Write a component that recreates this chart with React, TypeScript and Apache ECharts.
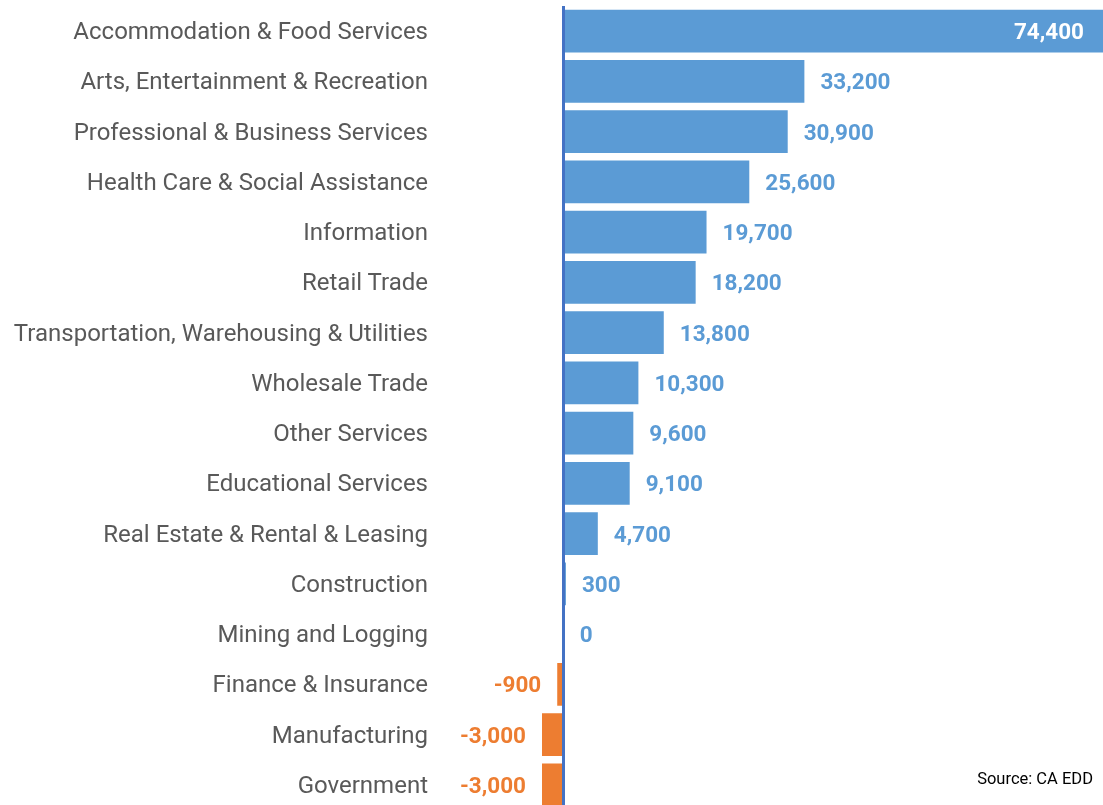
import React, { useEffect, useRef } from "react";
import * as echarts from "echarts";

const categories = [
  "Accommodation & Food Services",
  "Arts, Entertainment & Recreation",
  "Professional & Business Services",
  "Health Care & Social Assistance",
  "Information",
  "Retail Trade",
  "Transportation, Warehousing & Utilities",
  "Wholesale Trade",
  "Other Services",
  "Educational Services",
  "Real Estate & Rental & Leasing",
  "Construction",
  "Mining and Logging",
  "Finance & Insurance",
  "Manufacturing",
  "Government",
];
const values = [74400, 33200, 30900, 25600, 19700, 18200, 13800, 10300, 9600, 9100, 4700, 300, 0, -900, -3000, -3000];
const sourceText = "Source: CA EDD";

const FONT = "'Liberation Sans Narrow', 'Arial Narrow', Roboto, sans-serif";
const BLUE = "#5B9BD5";
const ORANGE = "#ED7D31";

export default function App() {
  const ref = useRef<HTMLDivElement>(null);
  useEffect(() => {
    if (!ref.current) return;
    const chart = echarts.init(ref.current, undefined, { renderer: "svg" });
    const fmt = (v: number) => v.toLocaleString("en-US");
    const maxV = Math.max(...values);
    const data = values.map((v) => {
      const neg = v < 0;
      const isMax = v === maxV;
      return {
        value: v,
        itemStyle: { color: neg ? ORANGE : BLUE },
        label: {
          show: true,
          position: isMax ? "insideRight" : neg ? "left" : "right",
          distance: isMax ? 19 : 16,
          color: isMax ? "#ffffff" : neg ? ORANGE : BLUE,
          fontFamily: FONT,
          fontWeight: "bold",
          fontSize: 22.5,
          formatter: () => fmt(v),
        },
      };
    });
    chart.setOption({
      animation: false,
      grid: { left: 542, right: 0, top: 6, bottom: 0, containLabel: false, outerBoundsMode: "none" },
      xAxis: {
        type: "value",
        min: -3000,
        max: 74400,
        show: false,
        splitLine: { show: false },
      },
      yAxis: {
        type: "category",
        data: categories,
        inverse: true,
        axisLine: { show: false },
        axisTick: { show: false },
        axisLabel: {
          margin: 114,
          color: "#595959",
          fontFamily: FONT,
          fontSize: 24,
        },
      },
      series: [
        {
          type: "bar",
          data,
          barCategoryGap: "15%",
          markLine: {
            silent: true,
            symbol: "none",
            label: { show: false },
            lineStyle: { color: "#4472C4", width: 3, type: "solid" },
            data: [{ xAxis: 0 }],
          },
        },
      ],
      graphic: [
        {
          type: "text",
          right: 10,
          top: 770,
          style: {
            text: sourceText,
            fontFamily: FONT,
            fontSize: 16.5,
            fill: "#000000",
          },
        },
      ],
    });
    return () => chart.dispose();
  }, []);
  return (
    <div
      ref={ref}
      style={{ position: "fixed", left: 0, top: 0, width: 1103, height: 810 }}
    />
  );
}
